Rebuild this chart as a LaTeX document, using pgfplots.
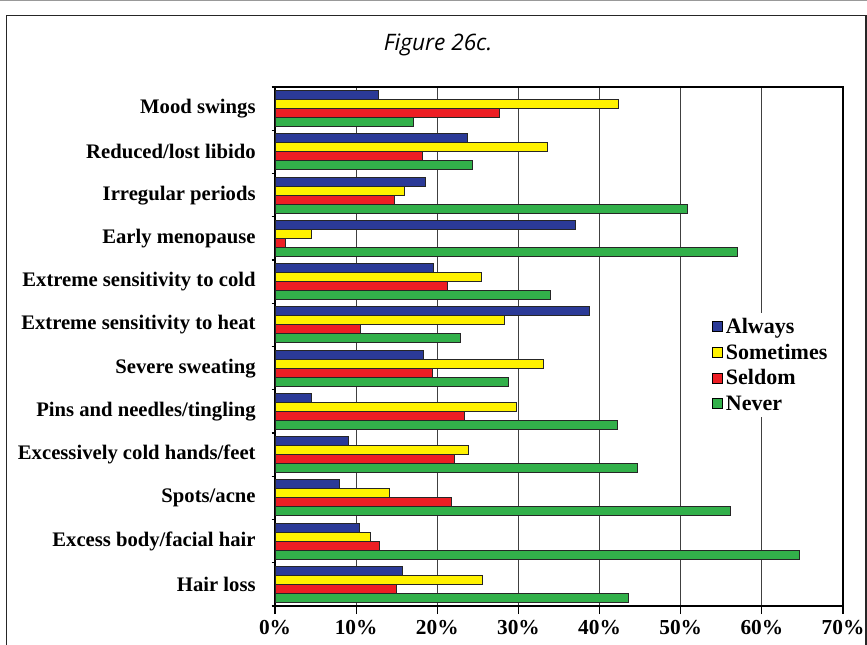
\documentclass[border=0pt]{standalone}
\usepackage{pgfplots}
\pgfplotsset{compat=1.18}
\usepackage{pgfplotstable}
\usepackage{fontspec}
\setmainfont{Liberation Serif}
\newfontfamily\titlefont{Open Sans}

\definecolor{cAlways}{RGB}{43,58,151}
\definecolor{cSometimes}{RGB}{255,242,0}
\definecolor{cSeldom}{RGB}{237,30,36}
\definecolor{cNever}{RGB}{50,176,74}

% values in percent, one row per symptom (top to bottom)
\pgfplotstableread{
idx always sometimes seldom never
0  12.8 42.3 27.7 17.1
1  23.7 33.6 18.2 24.3
2  18.5 15.9 14.7 50.8
3  37.0  4.5  1.3 57.0
4  19.5 25.4 21.2 34.0
5  38.8 28.3 10.5 22.9
6  18.3 33.1 19.4 28.8
7   4.5 29.7 23.4 42.2
8   9.1 23.8 22.1 44.6
9   7.9 14.1 21.8 56.1
10 10.4 11.8 12.9 64.6
11 15.7 25.5 14.9 43.5
}\symptoms

\begin{document}
\begin{tikzpicture}
\useasboundingbox (0,0) rectangle (650.25pt,483pt);
\draw[black!40, line width=1pt] (0pt,482.5pt) -- (650.25pt,482.5pt);
\draw[black!85, line width=0.9pt] (5pt,-5pt) rectangle (649.5pt,471.4pt);
\node[font=\titlefont\itshape\fontsize{17}{19}\selectfont] at (328.5pt,449pt) {Figure 26c.};
\begin{axis}[
  at={(206.25pt,28.5pt)}, anchor=south west,
  scale only axis, width=426pt, height=389.25pt,
  xbar, bar width=6.75pt,
  y dir=reverse,
  xmin=0, xmax=70, ymin=-0.5, ymax=11.5,
  xtick={0,10,...,70},
  xticklabel={\pgfmathprintnumber[assume math mode=true]{\tick}\%},
  xticklabel style={font=\fontsize{16}{18}\selectfont\bfseries, yshift=-1pt},
  ytick={0,...,11},
  yticklabels={Mood swings, Reduced/lost libido, Irregular periods, Early menopause,
    Extreme sensitivity to cold, Extreme sensitivity to heat, Severe sweating,
    Pins and needles/tingling, Excessively cold hands/feet, Spots/acne,
    Excess body/facial hair, Hair loss},
  yticklabel style={font=\fontsize{15.5}{17}\selectfont\bfseries, xshift=-5pt},
  ytick style={draw=none},
  extra y ticks={-0.5,0.5,...,11.5},
  extra y tick labels={},
  extra y tick style={ytick style={draw=black, line width=0.8pt}, major tick length=2.5pt},
  tick pos=left, tick align=outside, major tick length=6pt,
  xtick style={black, line width=0.8pt},
  xmajorgrids, grid style={black!75, line width=0.7pt},
  axis line style={black, line width=1.1pt},
  legend style={at={(0.765,0.566)}, anchor=north west, draw=none, fill=white,
    font=\fontsize{16.5}{18}\selectfont\bfseries, row sep=2.5pt, inner sep=2pt},
  legend cell align=left,
  legend image code/.code={\draw[#1, draw=black, line width=0.6pt] (-1.5pt,-3.75pt) rectangle (6pt,3.75pt);},
]
\addplot[fill=cAlways, draw=black!85, line width=0.6pt, bar shift=10.125pt] table[x=always, y=idx] {\symptoms};
\addplot[fill=cSometimes, draw=black!85, line width=0.6pt, bar shift=3.375pt] table[x=sometimes, y=idx] {\symptoms};
\addplot[fill=cSeldom, draw=black!85, line width=0.6pt, bar shift=-3.375pt] table[x=seldom, y=idx] {\symptoms};
\addplot[fill=cNever, draw=black!85, line width=0.6pt, bar shift=-10.125pt] table[x=never, y=idx] {\symptoms};
\legend{Always, Sometimes, Seldom, Never}
\end{axis}
\end{tikzpicture}
\end{document}
